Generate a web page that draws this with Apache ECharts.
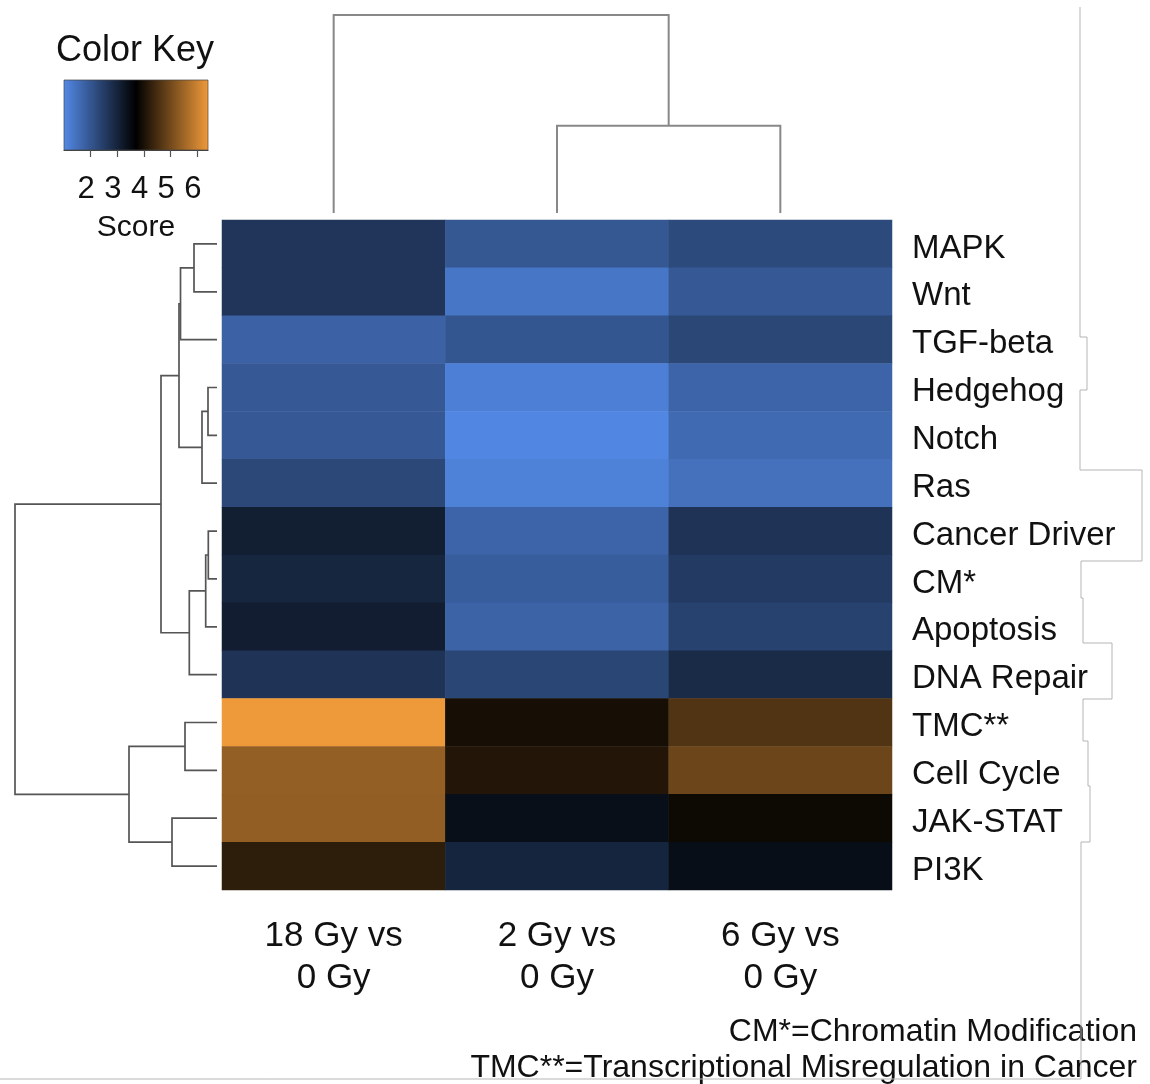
<!DOCTYPE html>
<html>
<head>
<meta charset="utf-8">
<title>Pathway scores heatmap</title>
<script src="https://cdn.jsdelivr.net/npm/echarts@6/dist/echarts.min.js"></script>
<style>
  html, body { margin: 0; padding: 0; background: #ffffff; }
  #chart { width: 1150px; height: 1084px; }
</style>
</head>
<body>
<div id="chart"></div>
<script>
// Pathways (rows, top to bottom) and comparisons (columns)
const rowNames = ['MAPK', 'Wnt', 'TGF-beta', 'Hedgehog', 'Notch', 'Ras', 'Cancer Driver',
  'CM*', 'Apoptosis', 'DNA Repair', 'TMC**', 'Cell Cycle', 'JAK-STAT', 'PI3K'];
const colNames = ['18 Gy vs\n0 Gy', '2 Gy vs\n0 Gy', '6 Gy vs\n0 Gy'];

// Pathway scores per comparison, in row order
const score18vs0 = [2.66, 2.66, 1.76, 1.94, 1.94, 2.29, 3.11, 2.96, 3.12, 2.69, 6.38, 5.37, 5.35, 4.21];
const score2vs0  = [1.97, 1.38, 2.01, 1.19, 1.05, 1.16, 1.73, 1.87, 1.75, 2.33, 3.96, 4.09, 3.41, 2.97];
const score6vs0  = [2.24, 1.94, 2.31, 1.73, 1.61, 1.49, 2.69, 2.55, 2.39, 2.85, 4.61, 4.92, 3.85, 3.43];

// Colour scale
const scoreRange = [1, 6.4];
const palette = ['#5389e6', '#000000', '#f09a3a'];
const keyTicks = [2, 3, 4, 5, 6];

// Hierarchical clustering (hclust style: negative = leaf, positive = earlier merge), with heights
const rowMerges = [
  [-1, -2, 0.23], [1, -3, 0.365], [-4, -5, 0.09], [3, -6, 0.15], [2, 4, 0.38],
  [-7, -8, 0.087], [6, -9, 0.113], [7, -10, 0.277], [5, 8, 0.56],
  [-11, -12, 0.32], [-13, -14, 0.45], [10, 11, 0.88], [9, 12, 2.02]
];
const colMerges = [[-2, -3, 0.873], [-1, 1, 1.98]];

const footnotes = ['CM*=Chromatin Modification', 'TMC**=Transcriptional Misregulation in Cancer'];

// heatmap cells [col, row, value]
const columns = [score18vs0, score2vs0, score6vs0];
const cells = [];
columns.forEach((vals, c) => vals.forEach((v, r) => cells.push([c, r, v])));

// place each merge at the mean position of its two children
function dendroSegments(merges) {
  const pos = [];
  const out = [];
  const child = k => (k < 0 ? { p: -k - 1, h: 0 } : { p: pos[k - 1], h: merges[k - 1][2] });
  merges.forEach(([a, b, h], i) => {
    const A = child(a), B = child(b);
    pos[i] = (A.p + B.p) / 2;
    out.push([h, A.p, B.p, A.h, B.h]);
  });
  return out;
}

function dendroRender(orient, color, width) {
  return function (params, api) {
    const h = api.value(0), a = api.value(1), b = api.value(2), ha = api.value(3), hb = api.value(4);
    const pts = orient === 'row'
      ? [api.coord([ha, a]), api.coord([h, a]), api.coord([h, b]), api.coord([hb, b])]
      : [api.coord([a, ha]), api.coord([a, h]), api.coord([b, h]), api.coord([b, hb])];
    return { type: 'polyline', shape: { points: pts }, style: { stroke: color, lineWidth: width, fill: null } };
  };
}

const rowMax = Math.max(...rowMerges.map(m => m[2]));
const colMax = Math.max(...colMerges.map(m => m[2]));
const textColor = '#111111';
const fontFamily = 'Liberation Sans, Arial, sans-serif';

const chart = echarts.init(document.getElementById('chart'), null, { renderer: 'canvas' });

chart.setOption({
  backgroundColor: '#ffffff',
  animation: false,
  textStyle: { fontFamily: fontFamily, color: textColor },
  grid: [
    { left: 222, top: 220, width: 670, height: 670 },   // heatmap
    { left: 15, top: 220, width: 202, height: 670 },    // row dendrogram
    { left: 222, top: 15, width: 670, height: 198 },    // column dendrogram
    { left: 64, top: 80, width: 144, height: 70 }       // colour key
  ],
  xAxis: [
    {
      gridIndex: 0, type: 'category', data: colNames, position: 'bottom',
      axisLine: { show: false }, axisTick: { show: false }, splitLine: { show: false },
      axisLabel: { fontSize: 35, lineHeight: 42, margin: 25, color: textColor }
    },
    { gridIndex: 1, type: 'value', min: 0, max: rowMax, inverse: true, show: false },
    { gridIndex: 2, type: 'value', min: -0.5, max: colNames.length - 0.5, show: false },
    {
      gridIndex: 3, type: 'value', min: scoreRange[0], max: scoreRange[1], position: 'bottom',
      splitLine: { show: false },
      axisLine: { show: true, lineStyle: { color: '#444', width: 1.2 } },
      axisTick: { show: true, length: 7, customValues: keyTicks, lineStyle: { color: '#555', width: 1.2 } },
      axisLabel: { customValues: keyTicks, fontSize: 31, margin: 24, color: textColor, padding: [0, 9, 0, 0] },
      name: 'Score', nameLocation: 'middle', nameGap: 63,
      nameTextStyle: { fontSize: 30, color: textColor }
    }
  ],
  yAxis: [
    {
      gridIndex: 0, type: 'category', data: rowNames, inverse: true, position: 'right',
      axisLine: { show: false }, axisTick: { show: false }, splitLine: { show: false },
      axisLabel: {
        margin: 20, align: 'left',
        formatter: '{n|{value}}',
        rich: { n: { fontSize: 33, color: textColor, fontFamily: fontFamily, padding: [9, 0, 0, 0] } }
      }
    },
    { gridIndex: 1, type: 'value', min: -0.5, max: rowNames.length - 0.5, inverse: true, show: false },
    { gridIndex: 2, type: 'value', min: 0, max: colMax, show: false },
    { gridIndex: 3, type: 'value', min: 0, max: 1, show: false }
  ],
  visualMap: {
    show: false, type: 'continuous', seriesIndex: 0,
    min: scoreRange[0], max: scoreRange[1], dimension: 2,
    inRange: { color: palette }
  },
  series: [
    {
      type: 'heatmap', xAxisIndex: 0, yAxisIndex: 0, data: cells,
      itemStyle: { borderWidth: 0 }, emphasis: { disabled: true }, progressive: 0
    },
    {
      type: 'custom', xAxisIndex: 1, yAxisIndex: 1, clip: false, silent: true,
      data: dendroSegments(rowMerges),
      renderItem: dendroRender('row', '#555555', 1.7)
    },
    {
      type: 'custom', xAxisIndex: 2, yAxisIndex: 2, clip: false, silent: true,
      data: dendroSegments(colMerges),
      renderItem: dendroRender('col', '#888888', 2)
    },
    {
      // colour key bar spanning the full score range
      type: 'custom', xAxisIndex: 3, yAxisIndex: 3, clip: false, silent: true,
      data: [[scoreRange[0], scoreRange[1]]],
      renderItem: function (params, api) {
        const p0 = api.coord([api.value(0), 1]);
        const p1 = api.coord([api.value(1), 0]);
        const stops = palette.map((c, i) => ({ offset: i / (palette.length - 1), color: c }));
        return {
          type: 'rect',
          shape: { x: p0[0], y: p0[1], width: p1[0] - p0[0], height: p1[1] - p0[1] },
          style: {
            fill: new echarts.graphic.LinearGradient(0, 0, 1, 0, stops),
            stroke: 'rgba(70,70,70,0.7)', lineWidth: 1
          }
        };
      }
    }
  ],
  graphic: [
    {
      type: 'text', left: 56, top: 33,
      style: { text: 'Color Key', fontSize: 36, fill: textColor, fontFamily: fontFamily }
    },
    {
      type: 'text', right: 13, top: 1016,
      style: { text: footnotes[0], fontSize: 32, fill: textColor, fontFamily: fontFamily, textAlign: 'right' }
    },
    {
      type: 'text', right: 13, top: 1052,
      style: { text: footnotes[1], fontSize: 32, fill: textColor, fontFamily: fontFamily, textAlign: 'right' }
    },
    {
      // panel frame line along the right and bottom edges
      type: 'polyline', silent: true,
      shape: {
        points: [[1080, 7], [1080, 337], [1087, 337], [1087, 390], [1080, 390], [1080, 470],
          [1142, 470], [1142, 561], [1081, 561], [1081, 598], [1083, 598], [1083, 643],
          [1112, 643], [1112, 699], [1083, 699], [1083, 741], [1088, 741], [1088, 786],
          [1090, 786], [1090, 842], [1081, 842], [1081, 1079], [0, 1079]]
      },
      style: { stroke: '#b5b5b5', lineWidth: 1, fill: null }
    }
  ]
});
</script>
</body>
</html>
